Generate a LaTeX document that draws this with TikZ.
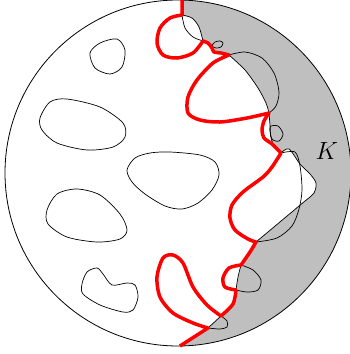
\documentclass[tikz,border=0pt]{standalone}
\begin{document}
\begin{tikzpicture}[x=1pt,y=-1pt,
    thinline/.style={line width=0.7pt},
    redcurve/.style={red, line width=3.5pt, line join=round}]
  \useasboundingbox (0,0) rectangle (349,354);
  \coordinate (O) at (178,173);
  \coordinate (Ka) at (182,15);
  \coordinate (Kb) at (203,41);
  \coordinate (Kc) at (229,55);
  \coordinate (Kd) at (269,113);
  \coordinate (Ke) at (281,153);
  \coordinate (Kf) at (256,242);
  \coordinate (Kg) at (241,265);
  \coordinate (Kh) at (236,290);
  \coordinate (Ki) at (221,316);
  \coordinate (Kj) at (208,328);
  \begin{scope}
    \clip (O) circle[radius=173pt];
    \filldraw[thinline, fill=black!25] (182,-10) -- (Ka)
      -- plot[smooth] coordinates {(Ka) (192,18) (199,27) (Kb)}
      -- plot[smooth] coordinates {(Kb) (208,43) (212,48) (214,52) (221,53) (Kc)}
      -- plot[smooth] coordinates {(Kc) (245,70) (258,88) (266,103) (Kd)}
      -- plot[smooth] coordinates {(Kd) (270,125) (271,138) (275,147) (Ke)}
      -- plot[smooth] coordinates {(Ke) (289,149) (300,164) (310,174) (316,183) (314,193) (305,201)}
      -- (Kf)
      -- plot[smooth] coordinates {(Kf) (250,252) (Kg)}
      -- plot[smooth] coordinates {(Kg) (238,277) (Kh)}
      -- plot[smooth] coordinates {(Kh) (233,304) (Ki)}
      -- (Kj) -- (180,346) -- (170,358) -- (360,358) -- (360,-10) -- cycle;
  \end{scope}
  \draw[thinline] plot[smooth cycle] coordinates {(90,53) (100,43) (117,39) (125,50) (122,67) (110,74) (95,68)};
  \draw[thinline] plot[smooth cycle] coordinates {(40,118) (50,102) (67,99) (100,107) (123,123) (125,137) (113,147) (87,150) (57,143) (42,130)};
  \draw[thinline] plot[smooth cycle] coordinates {(127,170) (135,158) (150,153) (170,152) (200,155) (215,162) (219,175) (212,190) (198,203) (182,209) (165,206) (145,194) (132,182)};
  \draw[thinline] plot[smooth cycle] coordinates {(47,210) (57,194) (77,189) (100,195) (120,214) (127,230) (120,239) (97,242) (67,237) (48,224)};
  \draw[thinline] plot[smooth cycle] coordinates {(82,284) (87,272) (97,268) (103,274) (112,285) (127,283) (135,285) (138,297) (133,310) (123,312) (100,305) (83,294)};
  \draw[thinline] plot[smooth] coordinates {(Ka) (185,28) (193,37) (Kb)};
  \draw[thinline] plot[smooth cycle] coordinates {(212,46) (215,42) (220,41) (223,43) (221,47) (216,48)};
  \draw[thinline] plot[smooth] coordinates {(Kc) (245,52) (262,58) (274,73) (279,92) (276,106) (Kd)};
  \draw[thinline] plot[smooth cycle] coordinates {(270,127) (278,126) (283,134) (279,141) (272,139)};
  \draw[thinline] plot[smooth] coordinates {(Ke) (295,152) (300,166) (302,190) (299,209) (292,226) (277,238) (Kf)};
  \draw[thinline] plot[smooth] coordinates {(Kg) (253,270) (261,280) (258,290) (247,292) (Kh)};
  \draw[thinline] plot[smooth] coordinates {(Ki) (227,321) (227,327) (220,329) (Kj)};
  \draw[line width=0.8pt] (O) circle[radius=173pt];
  \draw[redcurve] (182,-2) -- (Ka)
    -- plot[smooth] coordinates {(Ka) (170,18) (160,28) (157,43) (163,55) (177,58) (193,53) (Kb)}
    -- plot[smooth] coordinates {(Kb) (208,43) (212,48) (214,52) (221,53) (Kc)}
    -- plot[smooth] coordinates {(Kc) (213,63) (197,80) (188,97) (188,113) (200,120) (220,122) (247,118) (Kd)}
    -- plot[smooth] coordinates {(Kd) (264,121) (262,130) (264,138) (272,144) (Ke)}
    -- plot[smooth] coordinates {(Ke) (272,167) (263,177) (243,192) (232,205) (230,218) (235,230) (248,239) (Kf)}
    -- plot[smooth] coordinates {(Kf) (250,252) (Kg)}
    -- plot[smooth] coordinates {(Kg) (229,268) (223,278) (225,287) (Kh)}
    -- plot[smooth] coordinates {(Kh) (233,304) (Ki)}
    -- plot[smooth] coordinates {(Ki) (207,305) (193,287) (183,263) (173,255) (163,258) (157,277) (160,297) (173,313) (193,323) (Kj)}
    -- (180,346);
  \node (klabel) at (327,151) {\fontsize{23}{26}\selectfont$K$};
\end{tikzpicture}
\end{document}
